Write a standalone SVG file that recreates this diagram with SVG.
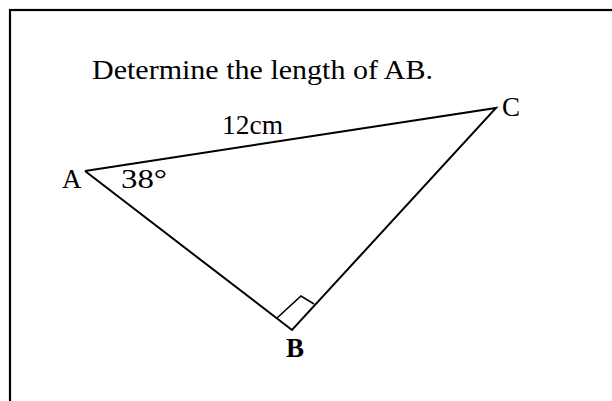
<svg xmlns="http://www.w3.org/2000/svg" width="612" height="401" viewBox="0 0 612 401">
<style>
.t{font-family:"Liberation Serif","Times New Roman",serif;font-size:27px;fill:#000}
.b{font-weight:bold}
.ln{fill:none;stroke:#000;stroke-width:2;stroke-linejoin:miter}
.thin{fill:none;stroke:#000;stroke-width:1.6}
</style>
<rect x="0" y="0" width="612" height="401" fill="#fff"/>
<rect x="10" y="10" width="620" height="420" fill="none" stroke="#000" stroke-width="2.2"/>
<text class="t" x="92" y="79" textLength="341" lengthAdjust="spacingAndGlyphs">Determine the length of AB.</text>
<g id="connectors">
<polyline class="ln" points="85,171 496,108 292,330 85,171"/>
<polyline class="thin" points="277,318 301,296 314,304"/>
</g>
<g id="A"><text class="t" x="62" y="188">A</text></g>
<g id="angle"><text class="t" x="121" y="188" textLength="46" lengthAdjust="spacingAndGlyphs">38°</text></g>
<g id="B"><text class="t b" x="286" y="357">B</text></g>
<g id="C"><text class="t" x="502" y="116">C</text></g>
<g id="side"><text class="t" x="222" y="134" textLength="61" lengthAdjust="spacingAndGlyphs">12cm</text></g>
</svg>
